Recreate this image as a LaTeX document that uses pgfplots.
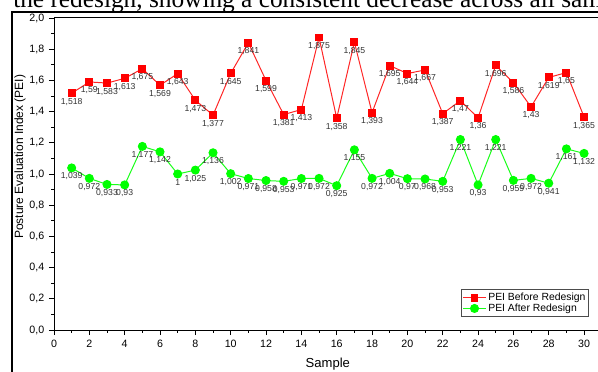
\documentclass[border=0pt]{standalone}
\usepackage{pgfplots}
\pgfplotsset{compat=1.18}
\usepackage{fontspec}
\setmainfont{Liberation Sans}
\newfontfamily\serifcap{Liberation Serif}
\definecolor{lblgray}{HTML}{333333}
\begin{document}
\begin{tikzpicture}
\useasboundingbox (0pt,0pt) rectangle (448.5pt,278.25pt);
\clip (0pt,0pt) rectangle (448.5pt,278.25pt);
\node[anchor=base west, inner sep=0pt, font=\serifcap\fontsize{19}{21}\selectfont] at (9.75pt,272.5pt) {the redesign, showing a consistent decrease across all samples};
\draw[line width=1.5pt] (9pt,-5pt) -- (9pt,269.25pt) -- (460pt,269.25pt);
\begin{axis}[
  at={(40.5pt,30.75pt)}, anchor=south west, scale only axis,
  width=410.8pt, height=234pt,
  xmin=0, xmax=31, ymin=0, ymax=2,
  /pgf/number format/assume math mode=true,
  xtick={0,2,...,30}, minor x tick num=1,
  ytick={0,0.2,0.4,0.6,0.8,1.0,1.2,1.4,1.6,1.8,2.0}, minor y tick num=1,
  tick align=outside, tick pos=left,
  major tick length=3.75pt, minor tick length=2.2pt,
  axis line style={line width=0.75pt},
  every tick/.style={black, line width=0.6pt},
  yticklabel style={/pgf/number format/.cd, fixed, fixed zerofill, precision=1, use comma, assume math mode=true},
  ticklabel style={font=\fontsize{8}{9}\selectfont},
  xlabel={Sample}, ylabel={Posture Evaluation Index (PEI)},
  xlabel style={font=\fontsize{9.8}{10}\selectfont, yshift=-1pt},
  every axis y label/.style={at={([xshift=-25.5pt]axis description cs:0,0.555)}, rotate=90, anchor=center, font=\fontsize{9}{10}\selectfont},
  clip=false,
  nodes near coords={\pgfmathprintnumber[precision=3,use comma,assume math mode=true]{\pgfplotspointmeta}},
  every node near coord/.append style={anchor=center, yshift=-6.4pt, font=\fontsize{6.5}{7}\selectfont, text=lblgray, inner sep=0pt},
  legend style={at={(0.977,0.042)}, anchor=south east, font=\fontsize{7.8}{8}\selectfont, draw=black!70, line width=0.5pt, inner sep=1pt, row sep=-2pt, nodes={inner sep=1.5pt}},
  legend cell align=left,
  legend image code/.code={\draw[#1] (0pt,0pt) -- (17pt,0pt); \draw[#1, mark repeat=2, mark phase=2] plot coordinates {(0pt,0pt) (8.5pt,0pt) (17pt,0pt)};},
]
\addplot[color=red!85!white, line width=0.75pt, mark=square*, mark size=2.6pt, mark options={fill=red, draw=red}] coordinates {
(1,1.518) (2,1.59) (3,1.583) (4,1.613) (5,1.675) (6,1.569) (7,1.643) (8,1.473) (9,1.377) (10,1.645)
(11,1.841) (12,1.599) (13,1.381) (14,1.413) (15,1.875) (16,1.358) (17,1.845) (18,1.393) (19,1.695) (20,1.644)
(21,1.667) (22,1.387) (23,1.47) (24,1.36) (25,1.696) (26,1.586) (27,1.43) (28,1.619) (29,1.65) (30,1.365)};
\addlegendentry{PEI Before Redesign}
\addplot[color=green!90!white, line width=0.75pt, mark=*, mark size=3pt, mark options={fill=green, draw=green}] coordinates {
(1,1.039) (2,0.972) (3,0.933) (4,0.93) (5,1.177) (6,1.142) (7,1) (8,1.025) (9,1.136) (10,1.002)
(11,0.971) (12,0.958) (13,0.953) (14,0.971) (15,0.972) (16,0.925) (17,1.155) (18,0.972) (19,1.004) (20,0.97)
(21,0.968) (22,0.953) (23,1.221) (24,0.93) (25,1.221) (26,0.959) (27,0.972) (28,0.941) (29,1.161) (30,1.132)};
\addlegendentry{PEI After Redesign}
\end{axis}
\end{tikzpicture}
\end{document}
